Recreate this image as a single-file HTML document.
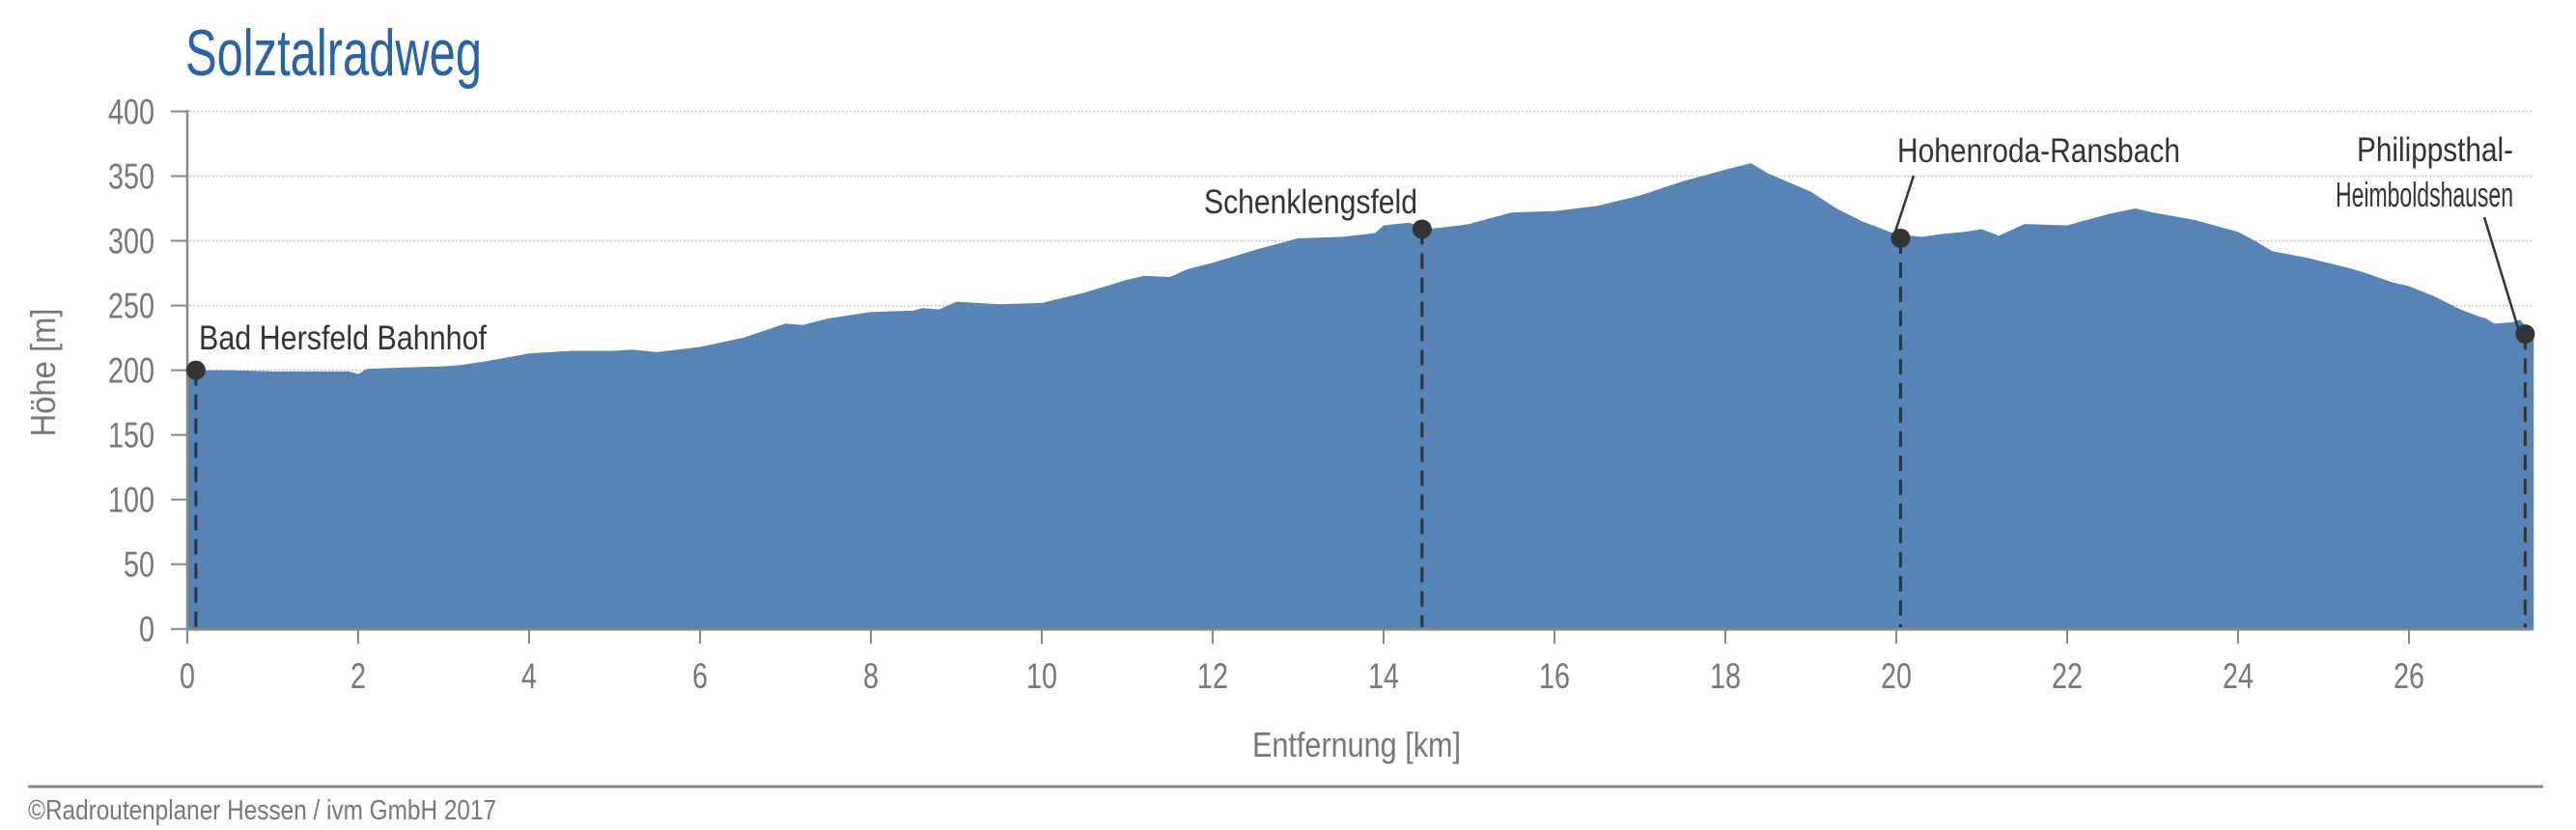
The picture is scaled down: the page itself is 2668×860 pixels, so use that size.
<!DOCTYPE html>
<html><head><meta charset="utf-8"><style>
html,body{margin:0;padding:0;background:#fff;}
svg{display:block;font-family:"Liberation Sans Narrow","Liberation Sans",sans-serif;}
</style></head><body>
<svg id="s" width="2668" height="860" viewBox="0 0 2668 860" xmlns="http://www.w3.org/2000/svg">
<text x="192" y="78" font-size="68" fill="#2a62a6" textLength="307" lengthAdjust="spacingAndGlyphs">Solztalradweg</text>
<path id="area" fill="#5783b5" d=""/>
<g id="grid" stroke="#888" stroke-opacity="0.5" stroke-width="1.5" stroke-dasharray="2,2"></g>
<line x1="194" y1="114" x2="194" y2="653" stroke="#888" stroke-width="2.5"/>
<line x1="193" y1="652" x2="2624" y2="652" stroke="#888" stroke-width="3"/>
<g id="ticks" stroke="#888" stroke-width="2"></g>
<g id="labels" fill="#777" font-size="37"></g>
<text x="1405" y="784" font-size="36" fill="#777" text-anchor="middle" textLength="216" lengthAdjust="spacingAndGlyphs">Entfernung [km]</text>
<text transform="translate(57,386) rotate(-90)" font-size="36" fill="#777" text-anchor="middle" textLength="133" lengthAdjust="spacingAndGlyphs">Höhe [m]</text>
<g id="marks" stroke="#333" stroke-width="3" fill="#333"></g>
<g fill="#333" font-size="35">
<text x="206" y="362" textLength="298" lengthAdjust="spacingAndGlyphs">Bad Hersfeld Bahnhof</text>
<text x="1247" y="221" textLength="221" lengthAdjust="spacingAndGlyphs">Schenklengsfeld</text>
<text x="1965" y="168" textLength="293" lengthAdjust="spacingAndGlyphs">Hohenroda-Ransbach</text>
<text x="2603" y="167" text-anchor="end" textLength="162" lengthAdjust="spacingAndGlyphs">Philippsthal-</text>
<text x="2603" y="214" text-anchor="end" font-size="36" textLength="184" lengthAdjust="spacingAndGlyphs">Heimboldshausen</text>
</g>
<line x1="1982" y1="182" x2="1962" y2="243" stroke="#333" stroke-width="2.5"/>
<line x1="2573" y1="225" x2="2608" y2="340" stroke="#333" stroke-width="2.5"/>
<line x1="29" y1="815" x2="2634" y2="815" stroke="#888" stroke-width="3"/>
<text x="29" y="849" font-size="29" fill="#777" textLength="485" lengthAdjust="spacingAndGlyphs">©Radroutenplaner Hessen / ivm GmbH 2017</text>
</svg>
<script>
var NS="http://www.w3.org/2000/svg";
function X(k){return 194+k*88.5;}
function Y(m){return 651.7-m*1.3405;}
var d=[[0,200],[0.5,200],[1,199],[1.5,199],[1.9,199],[2,197],[2.1,201],[2.5,202],[3,203],[3.2,204],[3.5,207],[4,213],[4.5,215],[5,215],[5.2,216],[5.5,214],[6,218],[6.5,225],[7,236],[7.2,235],[7.5,240],[8,245],[8.5,246],[8.6,248],[8.8,247],[9,253],[9.5,251],[10,252],[10.5,260],[11,270],[11.2,273],[11.5,272],[11.7,278],[12,283],[12.5,293],[13,302],[13.5,303],[13.9,306],[14,312],[14.3,314],[14.5,309],[14.9,312],[15,313],[15.5,322],[16,323],[16.5,327],[17,335],[17.5,346],[18,355],[18.3,360],[18.5,352],[19,338],[19.3,325],[19.6,315],[20,305],[20.3,303],[20.5,305],[20.8,307],[21,309],[21.2,304],[21.5,313],[22,312],[22.5,321],[22.8,325],[23,322],[23.5,316],[24,307],[24.2,300],[24.4,292],[24.8,287],[25.3,279],[25.5,275],[25.8,268],[26,265],[26.3,257],[26.6,247],[26.8,242],[26.9,240],[27,236],[27.2,237],[27.3,239],[27.46,226]];
var p="M"+X(0)+","+Y(0);
d.forEach(function(a){p+=" L"+X(a[0]).toFixed(1)+","+Y(a[1]).toFixed(1);});
p+=" L"+X(27.46)+","+Y(0)+" Z";
document.getElementById("area").setAttribute("d",p);
function el(g,t,at,txt){var e=document.createElementNS(NS,t);for(var k in at)e.setAttribute(k,at[k]);if(txt!=null)e.textContent=txt;document.getElementById(g).appendChild(e);}
for(var v=50;v<=400;v+=50){el("grid","line",{x1:196,x2:2624,y1:Y(v),y2:Y(v)});}
for(var v=0;v<=400;v+=50){var s=String(v);el("ticks","line",{x1:177,x2:194,y1:Y(v),y2:Y(v)});el("labels","text",{x:160,y:Y(v)+13,"text-anchor":"end",textLength:16*s.length,lengthAdjust:"spacingAndGlyphs"},s);}
for(var k=0;k<=26;k+=2){var s=String(k);el("ticks","line",{x1:X(k),x2:X(k),y1:652,y2:667});el("labels","text",{x:X(k),y:713,"text-anchor":"middle",textLength:16*s.length,lengthAdjust:"spacingAndGlyphs"},s);}
[[0.1,200],[14.45,309],[20.05,302],[27.36,228]].forEach(function(m){el("marks","line",{x1:X(m[0]),x2:X(m[0]),y1:Y(m[1]),y2:650,"stroke-dasharray":"16,9"});el("marks","circle",{cx:X(m[0]),cy:Y(m[1]),r:10,stroke:"none"});});
</script>
</body></html>
